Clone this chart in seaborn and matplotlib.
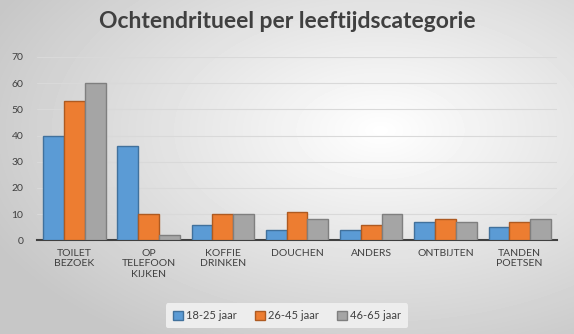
import numpy as np
import pandas as pd
import matplotlib
matplotlib.use("Agg")
import matplotlib.pyplot as plt
import seaborn as sns

categories = ["TOILET\nBEZOEK", "OP\nTELEFOON\nKIJKEN", "KOFFIE\nDRINKEN", "DOUCHEN",
              "ANDERS", "ONTBIJTEN", "TANDEN\nPOETSEN"]
groups = ["18-25 jaar", "26-45 jaar", "46-65 jaar"]
vals_18_25 = [40, 36, 6, 4, 4, 7, 5]
vals_26_45 = [53, 10, 10, 11, 6, 8, 7]
vals_46_65 = [60, 2, 10, 8, 10, 7, 8]
colors = ["#5B9BD5", "#ED7D31", "#A5A5A5"]
edges = ["#41719C", "#AE5A21", "#7F7F7F"]

rows = []
for g, vals in zip(groups, [vals_18_25, vals_26_45, vals_46_65]):
    for c, v in zip(categories, vals):
        rows.append({"cat": c, "group": g, "value": v})
df = pd.DataFrame(rows)

sns.set_style("white")
plt.rcParams["font.family"] = ["Lato", "DejaVu Sans"]

fig = plt.figure(figsize=(5.74, 3.34), dpi=100)

# background gradient
bg = fig.add_axes([0, 0, 1, 1], zorder=-10)
yy, xx = np.mgrid[0:334, 0:574]
d = np.sqrt(((xx - 380) / 574.0) ** 2 + ((yy - 130) / 334.0) ** 2)
img = 1.0 - 0.22 * np.clip(d / 0.75, 0, 1)
bg.imshow(img, cmap="gray", vmin=0, vmax=1, aspect="auto", extent=[0, 1, 0, 1])
bg.axis("off")

ax = fig.add_axes([0.065, 0.28, 0.905, 0.55])
ax.patch.set_alpha(0)
sns.barplot(data=df, x="cat", y="value", hue="group", palette=colors,
            width=0.84, ax=ax, saturation=1, zorder=3)
for i, cont in enumerate(ax.containers):
    for p in cont.patches:
        p.set_edgecolor(edges[i])
        p.set_linewidth(1.0)

ax.set_ylim(0, 70)
ax.set_yticks(range(0, 71, 10))
ax.yaxis.grid(True, color="#D9D9D9", linewidth=0.8, zorder=0)
ax.set_axisbelow(True)
for s in ["top", "right", "left"]:
    ax.spines[s].set_visible(False)
ax.spines["bottom"].set_color("#404040")
ax.spines["bottom"].set_linewidth(1.5)
ax.tick_params(axis="x", length=0, labelsize=7.5, colors="#404040", pad=6)
ax.tick_params(axis="y", length=0, labelsize=7.5, colors="#404040", pad=10)
ax.set_xlabel("")
ax.set_ylabel("")

fig.text(0.5, 0.935, "Ochtendritueel per leeftijdscategorie", ha="center", va="center",
         fontsize=16.5, fontweight="bold", color="#404040")

ax.legend_.remove()
handles = [plt.Rectangle((0, 0), 1, 1, facecolor=c, edgecolor=e) for c, e in zip(colors, edges)]
leg = fig.legend(handles, groups, loc="center", bbox_to_anchor=(0.5, 0.055), ncol=3,
                 frameon=True, fontsize=8, handlelength=0.9, handleheight=0.9,
                 handletextpad=0.3, columnspacing=1.6, borderpad=0.6)
leg.get_frame().set_facecolor("#EDEDED")
leg.get_frame().set_edgecolor("none")
leg.get_frame().set_alpha(1)
for t in leg.get_texts():
    t.set_color("#404040")

fig.savefig("out.png", dpi=100)
